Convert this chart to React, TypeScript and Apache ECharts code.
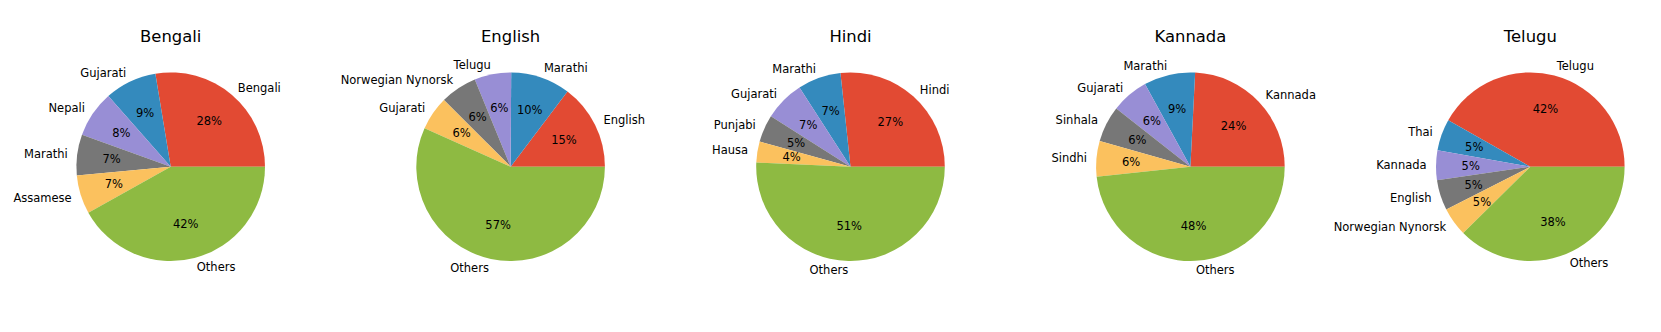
import React, { useEffect, useRef } from "react";
import * as echarts from "echarts";

const titles = ["Bengali", "English", "Hindi", "Kannada", "Telugu"];

const bengaliLabels = ["Bengali", "Gujarati", "Nepali", "Marathi", "Assamese", "Others"];
const bengaliValues = [27.6, 8.9, 8.0, 7.0, 6.6, 41.9];

const englishLabels = ["English", "Marathi", "Telugu", "Norwegian Nynorsk", "Gujarati", "Others"];
const englishValues = [14.7, 10.2, 6.3, 6.3, 5.8, 56.7];

const hindiLabels = ["Hindi", "Marathi", "Gujarati", "Punjabi", "Hausa", "Others"];
const hindiValues = [26.7, 7.4, 6.9, 4.7, 3.6, 50.7];

const kannadaLabels = ["Kannada", "Marathi", "Gujarati", "Sinhala", "Sindhi", "Others"];
const kannadaValues = [24.2, 8.8, 6.4, 6.2, 6.1, 48.3];

const teluguLabels = ["Telugu", "Thai", "Kannada", "English", "Norwegian Nynorsk", "Others"];
const teluguValues = [41.8, 5.4, 5.1, 5.2, 4.9, 37.6];

const colors = ["#E24A33", "#348ABD", "#988ED5", "#777777", "#FBC15E", "#8EBA42"];

const panels = [
  { labels: bengaliLabels, values: bengaliValues },
  { labels: englishLabels, values: englishValues },
  { labels: hindiLabels, values: hindiValues },
  { labels: kannadaLabels, values: kannadaValues },
  { labels: teluguLabels, values: teluguValues },
];

const FONT = "DejaVu Sans";

export default function App() {
  const ref = useRef<HTMLDivElement>(null);
  useEffect(() => {
    if (!ref.current) return;
    const chart = echarts.init(ref.current, undefined, { renderer: "svg" });
    const r = 94.3;
    const cy = 166.7;
    const x0 = 170.7;
    const step = 339.9;
    const series: any[] = [];
    const title: any[] = [];
    panels.forEach((p, i) => {
      const cx = x0 + step * i;
      const data = p.values.map((v, j) => ({
        name: p.labels[j],
        value: v,
        itemStyle: { color: colors[j] },
      }));
      title.push({
        text: titles[i],
        left: cx,
        top: 25,
        textAlign: "center",
        padding: 0,
        textStyle: {
          fontFamily: FONT,
          fontSize: 16.4,
          fontWeight: "normal",
          color: "#000",
          lineHeight: 22,
        },
      });
      series.push({
        type: "pie",
        center: [cx, cy],
        radius: [0, r],
        startAngle: 0,
        clockwise: false,
        avoidLabelOverlap: false,
        silent: true,
        data,
        label: {
          show: true,
          position: "outside",
          alignTo: "none",
          distanceToLabelLine: 0,
          fontFamily: FONT,
          fontSize: 11.5,
          color: "#000",
          formatter: "{b}",
        },
        labelLine: { show: false, length: r * 0.1, length2: 0 },
        emphasis: { disabled: true },
      });
      series.push({
        type: "pie",
        center: [cx, cy],
        radius: [0, r * 1.2],
        startAngle: 0,
        clockwise: false,
        avoidLabelOverlap: false,
        silent: true,
        data: p.values.map((v, j) => ({ name: p.labels[j], value: v })),
        itemStyle: { color: "rgba(0,0,0,0)" },
        label: {
          show: true,
          position: "inside",
          fontFamily: FONT,
          fontSize: 11.5,
          color: "#000",
          formatter: (q: any) => Math.round(q.percent) + "%",
        },
        labelLine: { show: false },
        emphasis: { disabled: true },
      });
    });
    chart.setOption({
      animation: false,
      backgroundColor: "#ffffff",
      title,
      series,
    });
    return () => chart.dispose();
  }, []);
  return (
    <div
      ref={ref}
      style={{ position: "fixed", left: 0, top: 0, width: 1661, height: 332 }}
    />
  );
}
